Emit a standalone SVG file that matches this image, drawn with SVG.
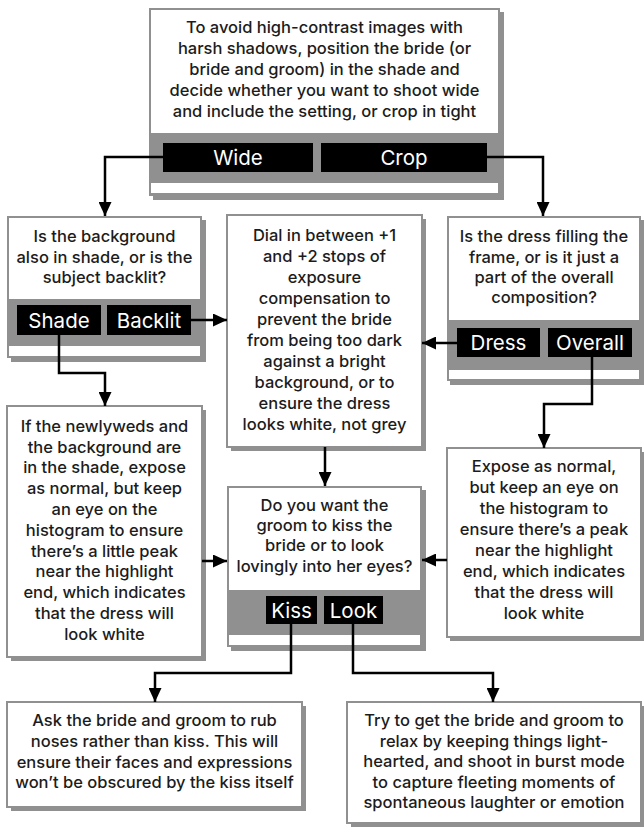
<svg xmlns="http://www.w3.org/2000/svg" width="644" height="829" viewBox="0 0 644 829">
  <style>
    .shadow { fill: #909090; }
    .frame { fill: #909090; }
    .panel { fill: #ffffff; }
    .card { fill: #ffffff; stroke: #909090; stroke-width: 2; }
    .tag { fill: #000000; }
    .txt { font-family: Inter, "Open Sans", "Liberation Sans", sans-serif; font-size: 16.5px; font-weight: 500; fill: #1c1c1c; text-anchor: middle; }
    .lbl { font-family: Inter, "Open Sans", "Liberation Sans", sans-serif; font-size: 20.5px; fill: #ffffff; text-anchor: middle; }
    .wire { fill: none; stroke: #000000; stroke-width: 2.5; stroke-linejoin: miter; }
  </style>
  <defs>
    <marker id="arrow" viewBox="0 0 14 13" refX="14" refY="6.5" markerWidth="14" markerHeight="13" markerUnits="userSpaceOnUse" orient="auto">
      <path d="M0,0 L14,6.5 L0,13 z" fill="#000000"/>
    </marker>
  </defs>
  <rect width="644" height="829" fill="#ffffff"/>

  <!-- Start: shoot wide or crop in tight -->
  <g id="start">
    <rect class="shadow" x="153" y="12" width="351" height="188"/>
    <rect class="frame" x="149" y="8" width="351" height="188"/>
    <rect class="panel" x="151" y="10" width="347" height="123"/>
    <rect class="panel" x="151" y="183" width="347" height="10"/>
    <text class="txt" x="324.5" y="32.7">To avoid high-contrast images with</text>
    <text class="txt" x="324.5" y="53.9">harsh shadows, position the bride (or</text>
    <text class="txt" x="324.5" y="75">bride and groom) in the shade and</text>
    <text class="txt" x="324.5" y="96.2">decide whether you want to shoot wide</text>
    <text class="txt" x="324.5" y="117.3">and include the setting, or crop in tight</text>
    <rect class="tag" x="163" y="143" width="150" height="29"/>
    <text class="lbl" x="238" y="165">Wide</text>
    <rect class="tag" x="321" y="143" width="166" height="29"/>
    <text class="lbl" x="404" y="165">Crop</text>
  </g>

  <!-- Wide: background question -->
  <g id="background">
    <rect class="shadow" x="11" y="220" width="195" height="142"/>
    <rect class="frame" x="7" y="216" width="195" height="142"/>
    <rect class="panel" x="9" y="218" width="191" height="81"/>
    <rect class="panel" x="9" y="346" width="191" height="10"/>
    <text class="txt" x="104.5" y="242.3">Is the background</text>
    <text class="txt" x="104.5" y="262.8">also in shade, or is the</text>
    <text class="txt" x="104.5" y="283.3">subject backlit?</text>
    <rect class="tag" x="17" y="305" width="84" height="30"/>
    <text class="lbl" x="59" y="327.5">Shade</text>
    <rect class="tag" x="107" y="305" width="84" height="30"/>
    <text class="lbl" x="149" y="327.5">Backlit</text>
  </g>

  <!-- Crop: dress question -->
  <g id="dress">
    <rect class="shadow" x="450" y="220" width="194" height="165"/>
    <rect class="frame" x="447" y="216" width="194" height="165"/>
    <rect class="panel" x="449" y="218" width="190" height="102"/>
    <rect class="panel" x="449" y="370" width="190" height="9"/>
    <text class="txt" x="544" y="242.3">Is the dress filling the</text>
    <text class="txt" x="544" y="262.7">frame, or is it just a</text>
    <text class="txt" x="544" y="283">part of the overall</text>
    <text class="txt" x="544" y="303.4">composition?</text>
    <rect class="tag" x="457" y="328" width="83" height="29"/>
    <text class="lbl" x="498.5" y="350">Dress</text>
    <rect class="tag" x="548" y="328" width="84" height="29"/>
    <text class="lbl" x="590" y="350">Overall</text>
  </g>

  <!-- Exposure compensation advice -->
  <g id="compensation">
    <rect class="shadow" x="231" y="219" width="195" height="232"/>
    <rect class="card" x="227" y="215" width="195" height="232"/>
    <text class="txt" x="324.5" y="240.5">Dial in between +1</text>
    <text class="txt" x="324.5" y="261.6">and +2 stops of</text>
    <text class="txt" x="324.5" y="282.7">exposure</text>
    <text class="txt" x="324.5" y="303.8">compensation to</text>
    <text class="txt" x="324.5" y="324.9">prevent the bride</text>
    <text class="txt" x="324.5" y="346">from being too dark</text>
    <text class="txt" x="324.5" y="367.1">against a bright</text>
    <text class="txt" x="324.5" y="388.2">background, or to</text>
    <text class="txt" x="324.5" y="409.3">ensure the dress</text>
    <text class="txt" x="324.5" y="430.4">looks white, not grey</text>
  </g>

  <!-- Shade: expose as normal -->
  <g id="shade-advice">
    <rect class="shadow" x="11" y="410" width="195" height="251"/>
    <rect class="card" x="7" y="406" width="195" height="251"/>
    <text class="txt" x="104.5" y="431.7">If the newlyweds and</text>
    <text class="txt" x="104.5" y="452.5">the background are</text>
    <text class="txt" x="104.5" y="473.3">in the shade, expose</text>
    <text class="txt" x="104.5" y="494.1">as normal, but keep</text>
    <text class="txt" x="104.5" y="514.9">an eye on the</text>
    <text class="txt" x="104.5" y="535.7">histogram to ensure</text>
    <text class="txt" x="104.5" y="556.5">there’s a little peak</text>
    <text class="txt" x="104.5" y="577.3">near the highlight</text>
    <text class="txt" x="104.5" y="598.1">end, which indicates</text>
    <text class="txt" x="104.5" y="618.9">that the dress will</text>
    <text class="txt" x="104.5" y="639.7">look white</text>
  </g>

  <!-- Overall: expose as normal -->
  <g id="overall-advice">
    <rect class="shadow" x="450" y="452" width="194" height="189"/>
    <rect class="card" x="447" y="448" width="194" height="189"/>
    <text class="txt" x="544" y="471.7">Expose as normal,</text>
    <text class="txt" x="544" y="492.8">but keep an eye on</text>
    <text class="txt" x="544" y="513.9">the histogram to</text>
    <text class="txt" x="544" y="535">ensure there’s a peak</text>
    <text class="txt" x="544" y="556.1">near the highlight</text>
    <text class="txt" x="544" y="577.2">end, which indicates</text>
    <text class="txt" x="544" y="598.3">that the dress will</text>
    <text class="txt" x="544" y="619.4">look white</text>
  </g>

  <!-- Kiss or look question -->
  <g id="kiss-question">
    <rect class="shadow" x="231" y="490" width="195" height="161"/>
    <rect class="frame" x="227" y="486" width="195" height="161"/>
    <rect class="panel" x="229" y="488" width="191" height="102"/>
    <rect class="panel" x="229" y="635" width="191" height="10"/>
    <text class="txt" x="324.5" y="510.7">Do you want the</text>
    <text class="txt" x="324.5" y="531">groom to kiss the</text>
    <text class="txt" x="324.5" y="551.4">bride or to look</text>
    <text class="txt" x="324.5" y="571.7">lovingly into her eyes?</text>
    <rect class="tag" x="266" y="596" width="51" height="28"/>
    <text class="lbl" x="291.5" y="617.5">Kiss</text>
    <rect class="tag" x="324" y="596" width="59" height="28"/>
    <text class="lbl" x="353.5" y="617.5">Look</text>
  </g>

  <!-- Kiss: rub noses -->
  <g id="kiss-advice">
    <rect class="shadow" x="11" y="706" width="295" height="105"/>
    <rect class="card" x="7" y="702" width="295" height="105"/>
    <text class="txt" x="154.5" y="726">Ask the bride and groom to rub</text>
    <text class="txt" x="154.5" y="746.8">noses rather than kiss. This will</text>
    <text class="txt" x="154.5" y="767.6">ensure their faces and expressions</text>
    <text class="txt" x="154.5" y="788.4">won’t be obscured by the kiss itself</text>
  </g>

  <!-- Look: burst mode -->
  <g id="look-advice">
    <rect class="shadow" x="351" y="706" width="294" height="121"/>
    <rect class="card" x="347" y="702" width="294" height="121"/>
    <text class="txt" x="494" y="726">Try to get the bride and groom to</text>
    <text class="txt" x="494" y="746.6">relax by keeping things light-</text>
    <text class="txt" x="494" y="767.2">hearted, and shoot in burst mode</text>
    <text class="txt" x="494" y="787.8">to capture fleeting moments of</text>
    <text class="txt" x="494" y="808.4">spontaneous laughter or emotion</text>
  </g>

  <!-- Connectors -->
  <g id="connectors">
    <path class="wire" d="M163,157 H105 V216" marker-end="url(#arrow)"/>
    <path class="wire" d="M487,157 H543 V216" marker-end="url(#arrow)"/>
    <path class="wire" d="M191,320 H227" marker-end="url(#arrow)"/>
    <path class="wire" d="M457,343 H422" marker-end="url(#arrow)"/>
    <path class="wire" d="M59,335 V373 H105 V406" marker-end="url(#arrow)"/>
    <path class="wire" d="M592,357 V404 H544 V448" marker-end="url(#arrow)"/>
    <path class="wire" d="M325,447 V486" marker-end="url(#arrow)"/>
    <path class="wire" d="M202,561 H227" marker-end="url(#arrow)"/>
    <path class="wire" d="M447,560 H422" marker-end="url(#arrow)"/>
    <path class="wire" d="M291,624 V673 H155 V702" marker-end="url(#arrow)"/>
    <path class="wire" d="M353,624 V673 H493 V702" marker-end="url(#arrow)"/>
  </g>
</svg>
